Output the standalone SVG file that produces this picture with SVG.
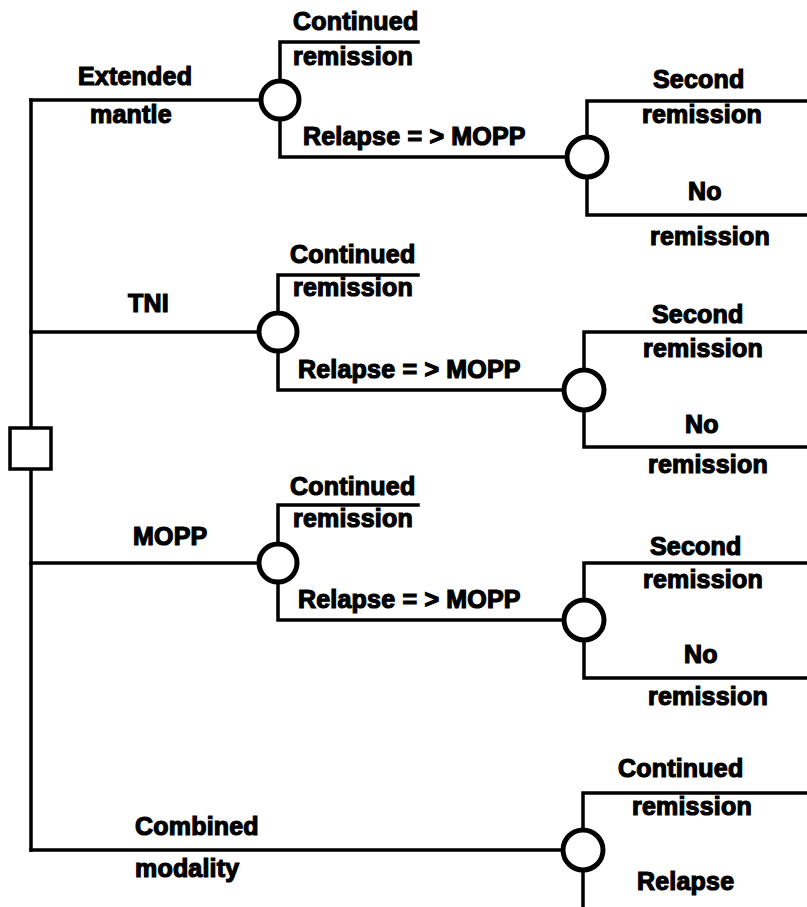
<svg xmlns="http://www.w3.org/2000/svg" width="807" height="907" viewBox="0 0 807 907">
<style>
.ln{fill:none;stroke:#000;stroke-width:3.5;stroke-linecap:square}
.ch{fill:#fff;stroke:#000;stroke-width:5}
.dc{fill:#fff;stroke:#000;stroke-width:3.5}
text{font-family:"Liberation Sans",Arial,sans-serif;font-weight:bold;font-size:25px;fill:#000;stroke:#000;stroke-width:1.2;letter-spacing:0.2px}
</style>
<rect width="807" height="907" fill="#fff"/>
<g id="connectors">
<path class="ln" d="M31,100 V850"/>
<path class="ln" d="M31,100 H262"/>
<path class="ln" d="M31,332 H258"/>
<path class="ln" d="M31,563 H258"/>
<path class="ln" d="M31,850 H563"/>
<path class="ln" d="M280,80 V42 H418"/>
<path class="ln" d="M280,120 V157 H567"/>
<path class="ln" d="M278,312 V275 H418"/>
<path class="ln" d="M278,352 V390 H564"/>
<path class="ln" d="M278,543 V505 H418"/>
<path class="ln" d="M278,583 V620 H564"/>
<path class="ln" d="M587,137 V101 H807"/>
<path class="ln" d="M587,177 V215 H807"/>
<path class="ln" d="M584,370 V332 H807"/>
<path class="ln" d="M584,410 V447 H807"/>
<path class="ln" d="M584,600 V563 H807"/>
<path class="ln" d="M584,640 V678 H807"/>
<path class="ln" d="M583,830 V793 H807"/>
<path class="ln" d="M583,870 V907"/>
</g>
<g id="decision"><rect class="dc" x="10" y="428" width="41" height="41"/></g>
<g id="chance-extended"><circle class="ch" cx="280" cy="100" r="19"/></g>
<g id="chance-extended-relapse"><circle class="ch" cx="587" cy="157" r="20"/></g>
<g id="chance-tni"><circle class="ch" cx="278" cy="332" r="19"/></g>
<g id="chance-tni-relapse"><circle class="ch" cx="584" cy="390" r="20"/></g>
<g id="chance-mopp"><circle class="ch" cx="278" cy="563" r="19"/></g>
<g id="chance-mopp-relapse"><circle class="ch" cx="584" cy="620" r="20"/></g>
<g id="chance-combined"><circle class="ch" cx="583" cy="850" r="20"/></g>
<g id="labels">
<text x="78" y="85">Extended</text>
<text x="90" y="123">mantle</text>
<text x="293" y="30">Continued</text>
<text x="293" y="65">remission</text>
<text x="303" y="145">Relapse = &gt; MOPP</text>
<text x="653" y="88">Second</text>
<text x="642" y="123">remission</text>
<text x="688" y="200">No</text>
<text x="650" y="245">remission</text>

<text x="128" y="312">TNI</text>
<text x="290" y="263">Continued</text>
<text x="293" y="296">remission</text>
<text x="298" y="378">Relapse = &gt; MOPP</text>
<text x="652" y="323">Second</text>
<text x="643" y="357">remission</text>
<text x="685" y="433">No</text>
<text x="648" y="473">remission</text>

<text x="133" y="545">MOPP</text>
<text x="290" y="495">Continued</text>
<text x="293" y="527">remission</text>
<text x="298" y="608">Relapse = &gt; MOPP</text>
<text x="650" y="555">Second</text>
<text x="643" y="588">remission</text>
<text x="684" y="663">No</text>
<text x="648" y="705">remission</text>

<text x="135" y="835">Combined</text>
<text x="135" y="877">modality</text>
<text x="618" y="777">Continued</text>
<text x="632" y="815">remission</text>
<text x="637" y="890">Relapse</text>
</g>
</svg>
